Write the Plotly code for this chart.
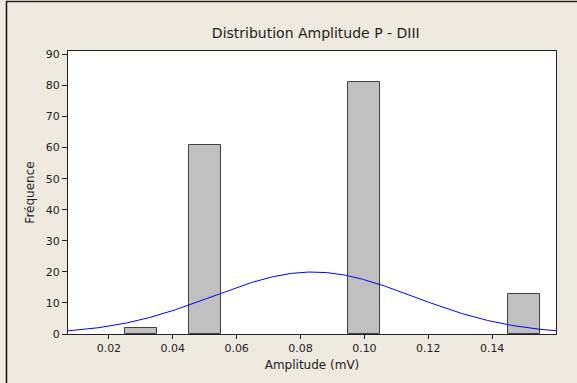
import numpy as np
import plotly.graph_objects as go

# Histogram of P-wave amplitudes (bin centres in mV, bin width 0.01)
bin_centers = [0.03, 0.05, 0.10, 0.15]
counts = [2, 61, 81, 13]
bin_width = 0.01

x_ticks = [0.02, 0.04, 0.06, 0.08, 0.10, 0.12, 0.14]
x_tick_labels = ["0.02", "0.04", "0.06", "0.08", "0.10", "0.12", "0.14"]
y_ticks = [0, 10, 20, 30, 40, 50, 60, 70, 80, 90]

x_range = [0.0072, 0.16]
y_range = [0, 91.1]

# Fitted normal curve, scaled to counts
c = np.array(bin_centers)
n = np.array(counts)
total = n.sum()
mean = (c * n).sum() / total
sd = np.sqrt(((c - mean) ** 2 * n).sum() / (total - 1))
xs = np.linspace(x_range[0], x_range[1], 300)
ys = total * bin_width / (sd * np.sqrt(2 * np.pi)) * np.exp(-0.5 * ((xs - mean) / sd) ** 2)

font = "DejaVu Sans"

fig = go.Figure()
fig.add_trace(go.Bar(
    x=bin_centers, y=counts, width=bin_width,
    marker=dict(color="#C0C0C0", line=dict(color="#404040", width=1)),
    hoverinfo="x+y",
))
fig.add_trace(go.Scatter(
    x=xs, y=ys, mode="lines",
    line=dict(color="#0000FF", width=1),
    hoverinfo="skip",
))

W, H = 577, 383
ml, mr, mt, mb = 68, 21, 51, 49
pw, ph = W - ml - mr, H - mt - mb

def px_x(p):
    return (p - ml) / pw

def px_y(p):
    return (H - mb - p) / ph

fig.update_layout(
    width=W, height=H,
    margin=dict(l=ml, r=mr, t=mt, b=mb, pad=0),
    paper_bgcolor="#EEEAE0",
    plot_bgcolor="#FFFFFF",
    showlegend=False,
    bargap=0,
    font=dict(family=font, size=11, color="#222222"),
    title=dict(
        text="Distribution Amplitude P - DIII",
        font=dict(family=font, size=14, color="#222222"),
        x=293 / W, xanchor="center", xref="paper",
        y=1 - 33 / H, yanchor="middle", yref="container",
    ),
    xaxis=dict(
        range=x_range, tickvals=x_ticks, ticktext=x_tick_labels,
        ticks="outside", ticklen=4, tickcolor="#222222", tickwidth=1,
        showgrid=False, zeroline=False,
        showline=True, linecolor="#222222", linewidth=1, mirror=True,
        title=dict(text="Amplitude (mV)", font=dict(family=font, size=12), standoff=6),
        tickfont=dict(family=font, size=11),
    ),
    yaxis=dict(
        range=y_range, tickvals=y_ticks,
        ticks="outside", ticklen=5, tickcolor="#222222", tickwidth=1,
        showgrid=False, zeroline=False,
        showline=True, linecolor="#222222", linewidth=1, mirror=True,
        title=dict(text="Fréquence", font=dict(family=font, size=12), standoff=8),
        tickfont=dict(family=font, size=11),
    ),
    shapes=[
        # outer frame: top and left edges
        dict(type="line", xref="paper", yref="paper",
             x0=px_x(6), x1=px_x(W + 2), y0=px_y(1.5), y1=px_y(1.5),
             line=dict(color="#222222", width=1.5)),
        dict(type="line", xref="paper", yref="paper",
             x0=px_x(6.5), x1=px_x(6.5), y0=px_y(1), y1=px_y(H + 2),
             line=dict(color="#111111", width=1.5)),
    ],
)

fig.write_html("out.html")
